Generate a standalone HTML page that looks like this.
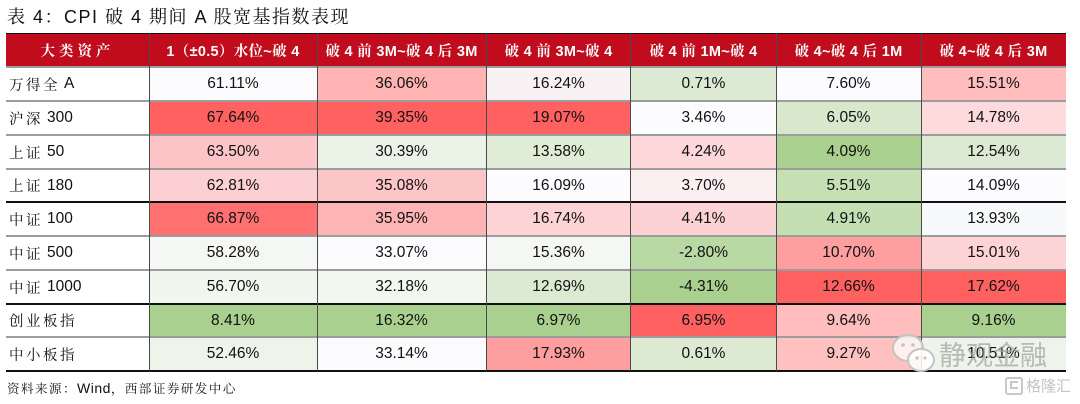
<!DOCTYPE html>
<html>
<head>
<meta charset="utf-8">
<style>
  html, body { margin:0; padding:0; background:#fff; }
  body { width:1080px; height:404px; position:relative; overflow:hidden;
         font-family:"Liberation Sans","Noto Serif CJK SC",serif; color:#111; }
  .title { position:absolute; left:7px; top:4px; height:26px; line-height:26px;
           font-size:18px; letter-spacing:1.5px; white-space:nowrap; color:#111; }
  .src { position:absolute; left:7px; top:378px; height:20px; line-height:20px;
         font-size:12.5px; letter-spacing:1.5px; white-space:nowrap; color:#111; }
  .src .w { font-size:14px; letter-spacing:0.5px; }
  .grid { position:absolute; left:6px; top:33px; width:1060px; height:338px;
          display:grid;
          grid-template-columns:143px 168px 169px 145px 145px 145px 145px;
          grid-template-rows:34px 34px 34px 34px 33px 34px 34px 34px 33px 34px; }
  .grid > div { display:flex; align-items:center; justify-content:center;
                font-size:15.5px; white-space:nowrap; font-family:"Liberation Sans","Noto Sans CJK SC",sans-serif; }
  .grid > div.h { background:#C00C1C; color:#fff; font-weight:bold; font-size:14.5px;
                  letter-spacing:0.3px; font-family:"Liberation Sans","Noto Serif CJK SC",serif; }
  .grid > div.h0 { letter-spacing:4px; }
  .grid > div.l { justify-content:flex-start; padding-left:3px; background:#fff;
                  font-size:14.5px; font-family:"Liberation Sans","Noto Serif CJK SC",serif; }
  .l .cj { letter-spacing:2.5px; }
  .l .n { font-size:15.5px; }
  .hl { position:absolute; left:6px; width:1060px; }
  .vl { position:absolute; top:33px; height:338px; width:1px; background:#4a4a4a; }
  .g { height:2px; background:#9c9c9c; }
  .k { height:1.5px; background:#111; }
</style>
</head>
<body>
<div class="title">表 4：CPI 破 4 期间 A 股宽基指数表现</div>

<div class="grid">
  <div class="h h0">大类资产</div>
  <div class="h">1（±0.5）水位~破 4</div>
  <div class="h">破 4 前 3M~破 4 后 3M</div>
  <div class="h">破 4 前 3M~破 4</div>
  <div class="h">破 4 前 1M~破 4</div>
  <div class="h">破 4~破 4 后 1M</div>
  <div class="h">破 4~破 4 后 3M</div>

  <div class="l"><span class="cj">万得全</span>&nbsp;<span class="n">A</span></div>
  <div style="background:#FBFAFD">61.11%</div>
  <div style="background:#FFB3B3">36.06%</div>
  <div style="background:#F9F2F5">16.24%</div>
  <div style="background:#DCEAD3">0.71%</div>
  <div style="background:#FCFCFF">7.60%</div>
  <div style="background:#FFBDBD">15.51%</div>

  <div class="l"><span class="cj">沪深</span>&nbsp;<span class="n">300</span></div>
  <div style="background:#FF6161">67.64%</div>
  <div style="background:#FF6161">39.35%</div>
  <div style="background:#FF6161">19.07%</div>
  <div style="background:#FCFCFF">3.46%</div>
  <div style="background:#D8E8CC">6.05%</div>
  <div style="background:#FDDADC">14.78%</div>

  <div class="l"><span class="cj">上证</span>&nbsp;<span class="n">50</span></div>
  <div style="background:#FCC4C6">63.50%</div>
  <div style="background:#EBF2E6">30.39%</div>
  <div style="background:#DFECD6">13.58%</div>
  <div style="background:#FDD7D9">4.24%</div>
  <div style="background:#A9D08E">4.09%</div>
  <div style="background:#DCEAD3">12.54%</div>

  <div class="l"><span class="cj">上证</span>&nbsp;<span class="n">180</span></div>
  <div style="background:#FCD0D2">62.81%</div>
  <div style="background:#FCC5C7">35.08%</div>
  <div style="background:#FCFCFF">16.09%</div>
  <div style="background:#FBEFF2">3.70%</div>
  <div style="background:#C6E0B4">5.51%</div>
  <div style="background:#FCFCFF">14.09%</div>

  <div class="l"><span class="cj">中证</span>&nbsp;<span class="n">100</span></div>
  <div style="background:#FF7070">66.87%</div>
  <div style="background:#FDB4B5">35.95%</div>
  <div style="background:#FDD3D5">16.74%</div>
  <div style="background:#FCD2D4">4.41%</div>
  <div style="background:#C4DFB2">4.91%</div>
  <div style="background:#F8F9FA">13.93%</div>

  <div class="l"><span class="cj">中证</span>&nbsp;<span class="n">500</span></div>
  <div style="background:#F5F7F4">58.28%</div>
  <div style="background:#FBFBFD">33.07%</div>
  <div style="background:#F5F7F4">15.36%</div>
  <div style="background:#B8D9A4">-2.80%</div>
  <div style="background:#FF9E9E">10.70%</div>
  <div style="background:#FDD4D6">15.01%</div>

  <div class="l"><span class="cj">中证</span>&nbsp;<span class="n">1000</span></div>
  <div style="background:#F1F6EE">56.70%</div>
  <div style="background:#F3F7F0">32.18%</div>
  <div style="background:#DCEAD3">12.69%</div>
  <div style="background:#A9D08E">-4.31%</div>
  <div style="background:#FF6161">12.66%</div>
  <div style="background:#FF6161">17.62%</div>

  <div class="l"><span class="cj">创业板指</span></div>
  <div style="background:#A9D08E">8.41%</div>
  <div style="background:#A9D08E">16.32%</div>
  <div style="background:#A9D08E">6.97%</div>
  <div style="background:#FF6161">6.95%</div>
  <div style="background:#FFBDBD">9.64%</div>
  <div style="background:#A9D08E">9.16%</div>

  <div class="l"><span class="cj">中小板指</span></div>
  <div style="background:#EEF4EA">52.46%</div>
  <div style="background:#FBFBFD">33.14%</div>
  <div style="background:#FF9E9E">17.93%</div>
  <div style="background:#DCEAD3">0.61%</div>
  <div style="background:#FFC0C0">9.27%</div>
  <div style="background:#EEF4EA">10.51%</div>
</div>

<!-- horizontal lines -->
<div class="hl k" style="top:33px;height:1px;"></div>
<div class="hl g" style="top:66px;"></div>
<div class="hl g" style="top:100px;"></div>
<div class="hl g" style="top:134px;"></div>
<div class="hl g" style="top:168px;"></div>
<div class="hl k" style="top:201px;"></div>
<div class="hl g" style="top:235px;"></div>
<div class="hl g" style="top:269px;"></div>
<div class="hl k" style="top:303px;"></div>
<div class="hl g" style="top:336px;"></div>
<div class="hl k" style="top:370px;height:2px;"></div>

<!-- vertical lines -->
<div class="vl" style="left:149px;"></div>
<div class="vl" style="left:317px;"></div>
<div class="vl" style="left:486px;"></div>
<div class="vl" style="left:630px;"></div>
<div class="vl" style="left:776px;"></div>
<div class="vl" style="left:921px;"></div>

<div class="src">资料来源：<span class="w">Wind</span>，西部证券研发中心</div>

<!-- watermark -->
<svg style="position:absolute;left:890px;top:332px;" width="48" height="44" viewBox="0 0 48 44">
  <ellipse cx="18" cy="16" rx="15" ry="13" fill="rgba(255,255,255,0.75)" stroke="#c4c4c4" stroke-width="2"/>
  <circle cx="13" cy="13" r="1.8" fill="#c4c4c4"/>
  <circle cx="23" cy="13" r="1.8" fill="#c4c4c4"/>
  <ellipse cx="31" cy="28" rx="13" ry="11" fill="rgba(255,255,255,0.85)" stroke="#c4c4c4" stroke-width="2"/>
  <circle cx="27" cy="26" r="1.6" fill="#c4c4c4"/>
  <circle cx="35" cy="26" r="1.6" fill="#c4c4c4"/>
</svg>
<div style="position:absolute;left:939px;top:338px;font-size:27px;line-height:32px;color:rgba(160,160,160,0.7);font-family:'Noto Sans CJK SC',sans-serif;white-space:nowrap;">静观金融</div>
<div style="position:absolute;left:1005px;top:377px;width:18px;height:18px;border:2px solid #c8c8c8;border-radius:3px;box-sizing:border-box;"></div>
<div style="position:absolute;left:1010px;top:381px;width:8px;height:8px;border:2px solid #c8c8c8;border-right:none;box-sizing:border-box;"></div>
<div style="position:absolute;left:1026px;top:376px;font-size:15px;line-height:20px;color:#c4c4c4;font-family:'Noto Sans CJK SC',sans-serif;white-space:nowrap;">格隆汇</div>
</body>
</html>
